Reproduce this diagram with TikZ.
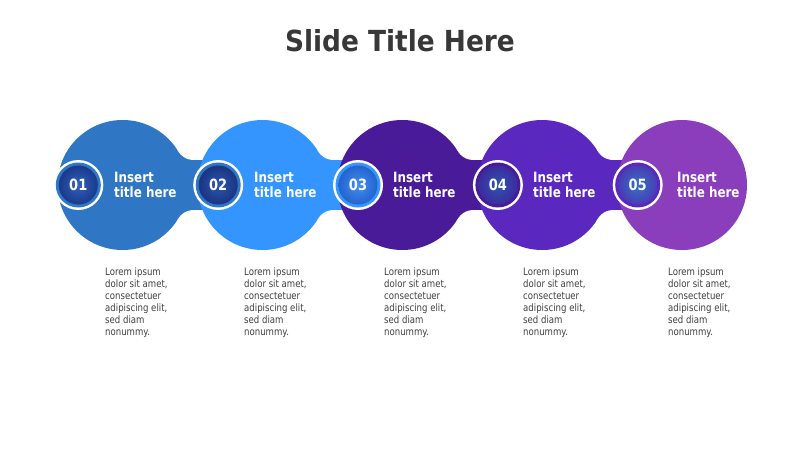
\documentclass[tikz,border=0pt]{standalone}
\usepackage{fontspec}
\setmainfont{DejaVu Sans}[FakeStretch=0.84]
\newfontfamily\titlefont{DejaVu Sans}[FakeStretch=0.91]
\definecolor{cA}{HTML}{2F76C4}
\definecolor{cB}{HTML}{3395FD}
\definecolor{cC}{HTML}{4A1B98}
\definecolor{cD}{HTML}{5A28BE}
\definecolor{cE}{HTML}{8A3EBC}
\definecolor{gAi}{HTML}{3060BA}\definecolor{gAo}{HTML}{1A3A8B}
\definecolor{gBi}{HTML}{2A56AE}\definecolor{gBo}{HTML}{1B3483}
\definecolor{gCi}{HTML}{3F8FF2}\definecolor{gCo}{HTML}{2563CE}
\definecolor{gDi}{HTML}{2D55AC}\definecolor{gDo}{HTML}{3B2C9E}
\definecolor{gEi}{HTML}{3273C6}\definecolor{gEo}{HTML}{4A3CB4}
\definecolor{titlegray}{HTML}{383838}
\definecolor{bodygray}{HTML}{404040}
\tikzset{
  titletext/.style={inner sep=0pt, font=\titlefont\fontsize{29}{34}\selectfont\bfseries, text=titlegray},
  steptitle/.style={inner sep=0pt, anchor=base west, align=left, font=\fontsize{14.2}{15}\selectfont\bfseries, text=white},
  numtext/.style={inner sep=0pt, font=\fontsize{15.5}{16}\selectfont\bfseries, text=white},
  bodytext/.style={inner sep=0pt, anchor=base west, align=left, font=\fontsize{10.2}{12}\selectfont, text=bodygray}
}
\begin{document}
\begin{tikzpicture}[x=1pt,y=-1pt]
\useasboundingbox (0,0) rectangle (800,450);
\fill[white] (0,0) rectangle (800,450);
% shapes: center x, next number x, colour
\foreach \c/\nx/\col/\neck in {122.6/218.2/cA/1, 262.5/358/cB/1, 402.3/497.9/cC/1, 542.2/637.7/cD/1, 682/0/cE/0}{
  \fill[\col] (\c,185) circle[radius=65pt];
  \ifnum\neck=1
    \fill[\col] (\c,160) rectangle (\nx,210);
    \fill[\col] (\c+55.6,142) rectangle (\c+71,160);
    \fill[\col] (\c+55.6,210) rectangle (\c+71,228);
    \fill[white] (\c+71,142) circle[radius=18pt];
    \fill[white] (\c+71,228) circle[radius=18pt];
  \fi
}
% number badges
\foreach \n/\rc/\gi/\go/\lab in {78.3/cA/gAi/gAo/01, 218.2/cA/gBi/gBo/02, 358/cB/gCi/gCo/03, 497.9/cC/gDi/gDo/04, 637.7/cD/gEi/gEo/05}{
  \fill[white] (\n,185) circle[radius=25pt];
  \fill[\rc] (\n,185) circle[radius=22.5pt];
  \shade[inner color=\gi, outer color=\go] (\n,185) circle[radius=19.5pt];
  \node[numtext] (num\lab) at (\n,185) {\lab};
}
\node[titletext, anchor=base] (title) at (400,51.7) {Slide Title Here};
\foreach \tx/\bx/\k in {114/105/1, 254/244/2, 393/384/3, 533/523/4, 677/668/5}{
  \node[steptitle] (st\k) at (\tx,197.3) {Insert\\title here};
  \node[bodytext] (bt\k) at (\bx,335.7) {Lorem ipsum\\dolor sit amet,\\consectetuer\\adipiscing elit,\\sed diam\\nonummy.};
}
\end{tikzpicture}
\end{document}
